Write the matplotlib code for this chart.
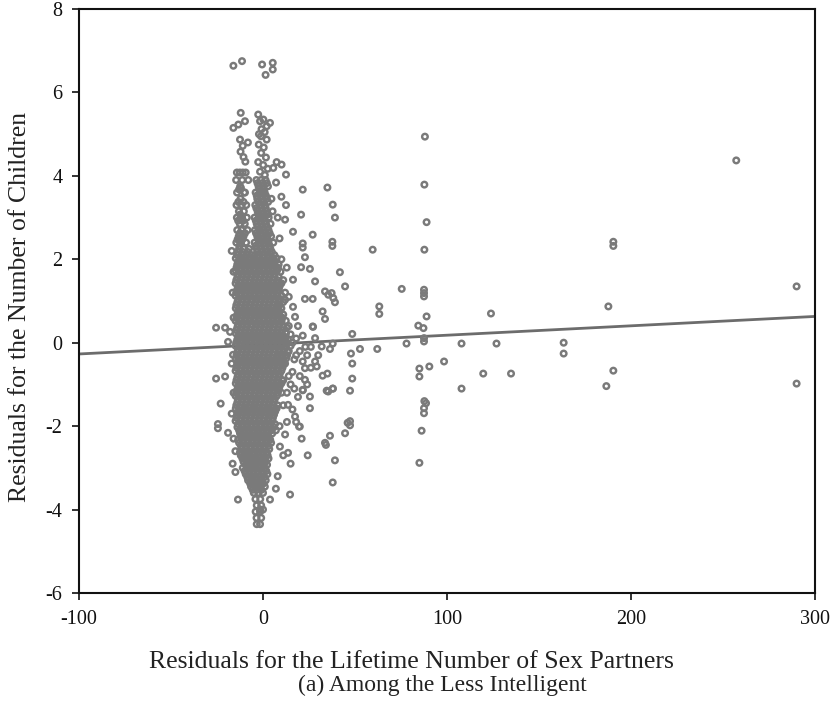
import matplotlib
matplotlib.use("Agg")
import matplotlib.pyplot as plt

plt.rcParams["font.family"] = ["Liberation Serif", "DejaVu Serif"]
plt.rcParams["axes.unicode_minus"] = False

# ------------------------------------------------------------------
# data
# ------------------------------------------------------------------
x_ticks = [-100, 0, 100, 200, 300]
y_ticks = [-6, -4, -2, 0, 2, 4, 6, 8]

# fitted regression line, end points at the axis limits
fit_x = [-100, 300]
fit_y = [-0.27, 0.63]

# dense core near zero, one row of points per residual level
core_y = [
    3.90, 3.75, 3.60, 3.45, 3.30, 3.15, 3.00, 2.85, 2.70, 2.55, 2.40, 2.25, 2.10,
    1.95, 1.80, 1.65, 1.50, 1.35, 1.20, 1.05, 0.90, 0.75, 0.60, 0.45, 0.30, 0.15,
    0.00, -0.15, -0.30, -0.45, -0.60, -0.75, -0.90, -1.05, -1.20, -1.35, -1.50,
    -1.65, -1.80, -1.95, -2.10, -2.25, -2.40, -2.55, -2.70, -2.85, -3.00, -3.15,
    -3.30, -3.45, -3.60, -3.75, -3.90, -4.05, -4.20, -4.35,
]
core_x = [
    [-14.6, -11.3, -3.6, -1.1, 1.4],
    [-12.4, -2.4, 0.2, 2.7],
    [-14.1, -10.2, -4.0, -1.6, 0.9],
    [-12.2, -3.1, -0.4, 2.1, 4.6],
    [-14.4, -11.6, -9.1, -4.2, -1.5, 1.1],
    [-13.1, -10.4, -2.9, -0.6, 2.0, 5.2],
    [-14.2, -11.4, -8.8, -4.6, -2.1, 0.6, 3.1],
    [-12.6, -9.9, -3.4, -0.9, 1.6, 4.1],
    [-14.0, -11.6, -8.4, -4.4, -2.0, 0.4, 3.0],
    [-13.2, -10.6, -3.1, -0.5, 2.1, 4.4],
    [-14.5, -12.0, -9.2, -4.6, -2.0, 0.6, 3.0, 5.6],
    [-13.0, -10.4, -7.6, -3.4, -1.0, 1.4, 4.0],
    [-14.1, -11.5, -9.0, -6.1, -4.4, -2.1, 0.5, 3.1, 6.2],
    [-13.4, -11.1, -8.6, -6.0, -3.5, -1.0, 1.6, 4.0, 6.6],
    [-14.4, -12.1, -9.4, -7.1, -4.5, -2.0, 0.4, 3.1, 5.5, 8.1],
    [-13.6, -10.9, -8.5, -5.9, -3.6, -1.1, 1.5, 3.9, 6.4],
    [-14.5, -12.0, -9.6, -7.0, -4.4, -2.1, 0.5, 2.9, 5.6, 7.9],
    [-13.5, -11.0, -8.4, -6.1, -3.5, -0.9, 1.4, 4.1, 6.5, 9.0],
    [-14.6, -12.1, -9.5, -6.9, -4.6, -2.0, 0.6, 3.0, 5.4, 8.0],
    [-13.4, -11.0, -8.5, -6.0, -3.4, -1.0, 1.5, 4.0, 6.6, 9.2],
    [-14.5, -11.9, -9.5, -7.1, -4.5, -1.9, 0.5, 3.1, 5.5, 8.0],
    [-13.6, -11.1, -8.4, -5.9, -3.6, -1.1, 1.6, 3.9, 6.5, 9.1],
    [-14.4, -12.0, -9.4, -7.0, -4.5, -2.0, 0.4, 3.0, 5.6, 8.1, 10.5],
    [-13.5, -10.9, -8.6, -6.1, -3.4, -0.9, 1.5, 4.1, 6.4, 9.0],
    [-14.5, -12.1, -9.5, -6.9, -4.4, -2.1, 0.6, 2.9, 5.5, 7.9, 10.6],
    [-13.4, -11.0, -8.5, -6.0, -3.5, -1.0, 1.4, 4.0, 6.6, 9.1, 11.5],
    [-14.6, -12.0, -9.6, -7.0, -4.6, -1.9, 0.5, 3.1, 5.4, 8.0, 10.4, 13.0],
    [-13.5, -11.1, -8.4, -6.1, -3.5, -1.1, 1.6, 3.9, 6.5, 9.0, 11.6],
    [-14.4, -11.9, -9.5, -7.0, -4.4, -2.0, 0.4, 3.0, 5.6, 8.1, 10.5, 13.1],
    [-13.6, -11.0, -8.5, -5.9, -3.6, -0.9, 1.5, 4.1, 6.4, 9.0, 11.4],
    [-14.5, -12.0, -9.4, -7.1, -4.5, -2.1, 0.6, 2.9, 5.5, 7.9, 10.6],
    [-13.4, -10.9, -8.6, -6.0, -3.4, -1.0, 1.4, 4.0, 6.6, 9.1],
    [-14.4, -12.1, -9.5, -6.9, -4.6, -1.9, 0.5, 3.1, 5.4, 8.0, 10.4],
    [-13.5, -11.0, -8.4, -6.1, -3.5, -1.1, 1.6, 3.9, 6.5, 9.0],
    [-14.6, -11.9, -9.6, -7.0, -4.4, -2.0, 0.4, 3.0, 5.6, 8.1],
    [-13.6, -11.1, -8.5, -5.9, -3.6, -0.9, 1.5, 4.1, 6.4],
    [-14.5, -12.0, -9.4, -7.1, -4.5, -2.1, 0.6, 2.9, 5.5, 7.9],
    [-13.4, -11.0, -8.6, -6.0, -3.4, -1.0, 1.4, 4.0, 6.6],
    [-14.4, -12.1, -9.5, -6.9, -4.6, -1.9, 0.5, 3.1, 5.4],
    [-13.5, -10.9, -8.4, -6.1, -3.5, -1.1, 1.6, 3.9, 6.5],
    [-13.0, -10.4, -8.1, -5.5, -3.0, -0.4, 2.0, 4.6, 7.0],
    [-12.1, -9.5, -6.9, -4.5, -2.0, 0.6, 3.0],
    [-13.0, -10.6, -8.0, -5.4, -3.1, -0.5, 2.1, 4.4],
    [-11.5, -9.0, -6.6, -4.0, -1.5, 1.0, 3.4],
    [-12.1, -9.4, -7.1, -5.0, -2.4, 0.1, 2.5],
    [-10.6, -8.0, -5.5, -3.4, -1.0, 1.5],
    [-11.0, -8.5, -6.1, -4.0, -1.6, 1.0],
    [-9.4, -7.0, -5.0, -2.5, 0.1, 2.4],
    [-8.1, -5.5, -3.4, -1.0, 1.5],
    [-6.5, -4.1, -1.6, 1.0],
    [-5.0, -2.5, 0.0],
    [-4.1, -1.5],
    [-3.4, -1.0],
    [-4.0, -1.6],
    [-3.5, -1.0],
    [-3.4, -1.6],
]

# in-between residual levels of the same core
core2_y = [
    3.825, 3.675, 3.525, 3.375, 3.225, 3.075, 2.925, 2.775, 2.625, 2.475, 2.325,
    2.175, 2.025, 1.875, 1.725, 1.575, 1.425, 1.275, 1.125, 0.975, 0.825, 0.675,
    0.525, 0.375, 0.225, 0.075, -0.075, -0.225, -0.375, -0.525, -0.675, -0.825,
    -0.975, -1.125, -1.275, -1.425, -1.575, -1.725, -1.875, -2.025, -2.175,
    -2.325, -2.475, -2.625, -2.775, -2.925, -3.075, -3.225, -3.375, -3.525,
]
core2_x = [
    [-3.0, -0.4, 2.1],
    [-13.0, -2.1, 0.6],
    [-3.4, -0.9, 1.6],
    [-13.4, -10.6, -2.4, 0.2, 2.8],
    [-3.6, -1.0, 1.5],
    [-12.4, -2.6, 0.0, 2.6],
    [-13.5, -10.8, -3.9, -1.4, 1.2],
    [-2.9, -0.3, 2.3],
    [-12.6, -9.8, -3.8, -1.2, 1.3, 3.6],
    [-13.8, -11.2, -2.6, 0.0, 2.5],
    [-12.8, -4.0, -1.4, 1.1, 3.6],
    [-13.6, -10.9, -8.2, -3.0, -0.3, 2.2, 4.8],
    [-14.8, -12.3, -9.8, -7.3, -4.9, -2.5, 0.0, 2.5, 5.0, 7.4],
    [-14.0, -11.5, -9.0, -6.5, -4.0, -1.5, 1.0, 3.5, 6.0, 8.5],
    [-14.8, -12.4, -9.9, -7.4, -4.9, -2.4, 0.1, 2.6, 5.1, 7.6],
    [-13.9, -11.6, -9.0, -6.5, -4.1, -1.6, 1.0, 3.4, 6.0, 8.5],
    [-14.9, -12.3, -9.9, -7.5, -5.0, -2.5, 0.0, 2.4, 5.0, 7.5, 10.0],
    [-14.0, -11.5, -9.1, -6.6, -4.0, -1.5, 1.1, 3.6, 6.0, 8.6],
    [-14.9, -12.4, -9.9, -7.4, -4.9, -2.4, 0.1, 2.5, 5.0, 7.5, 10.1],
    [-13.9, -11.5, -9.0, -6.5, -4.1, -1.6, 0.9, 3.4, 6.0, 8.5, 11.0],
    [-14.8, -12.4, -9.9, -7.5, -5.0, -2.5, 0.0, 2.5, 5.0, 7.4, 10.0],
    [-14.0, -11.5, -9.1, -6.6, -4.0, -1.5, 1.0, 3.5, 6.0, 8.5, 11.0],
    [-14.9, -12.3, -9.9, -7.4, -4.9, -2.4, 0.1, 2.6, 5.1, 7.6, 10.1, 12.4],
    [-13.9, -11.6, -9.0, -6.5, -4.1, -1.6, 0.9, 3.4, 5.9, 8.4, 11.0],
    [-14.8, -12.4, -9.9, -7.5, -5.0, -2.5, 0.0, 2.5, 5.0, 7.5, 10.0, 12.5],
    [-14.0, -11.5, -9.1, -6.6, -4.0, -1.5, 1.1, 3.6, 6.0, 8.6, 11.1, 13.6],
    [-14.9, -12.3, -9.9, -7.4, -4.9, -2.4, 0.1, 2.5, 5.1, 7.6, 10.1, 12.5, 15.0],
    [-13.9, -11.5, -9.0, -6.5, -4.1, -1.6, 0.9, 3.4, 6.0, 8.5, 11.0, 13.5],
    [-14.8, -12.4, -9.9, -7.5, -5.0, -2.5, 0.0, 2.6, 5.0, 7.5, 10.0, 12.6],
    [-14.0, -11.6, -9.1, -6.6, -4.0, -1.5, 1.0, 3.5, 6.0, 8.5, 11.1],
    [-14.9, -12.3, -9.9, -7.4, -4.9, -2.4, 0.1, 2.5, 5.1, 7.5, 10.0],
    [-13.9, -11.5, -9.0, -6.5, -4.1, -1.6, 0.9, 3.4, 6.0, 8.5],
    [-14.8, -12.4, -9.9, -7.5, -5.0, -2.5, 0.0, 2.5, 5.0, 7.6, 10.0],
    [-14.0, -11.5, -9.1, -6.6, -4.0, -1.5, 1.1, 3.6, 6.0, 8.5],
    [-14.9, -12.3, -9.9, -7.4, -4.9, -2.4, 0.1, 2.5, 5.1, 7.5],
    [-13.9, -11.6, -9.0, -6.5, -4.1, -1.6, 0.9, 3.4, 6.0],
    [-14.8, -12.4, -9.9, -7.5, -5.0, -2.5, 0.0, 2.6, 5.0, 7.4],
    [-14.0, -11.5, -9.1, -6.6, -4.0, -1.5, 1.0, 3.5, 6.0],
    [-14.9, -12.3, -9.9, -7.4, -4.9, -2.4, 0.1, 2.5, 5.1],
    [-13.9, -11.5, -9.0, -6.5, -4.1, -1.6, 0.9, 3.4, 5.9],
    [-12.5, -10.0, -7.5, -5.0, -2.5, 0.0, 2.5, 5.0],
    [-13.5, -11.0, -8.4, -6.0, -3.5, -1.0, 1.5, 3.9],
    [-12.0, -9.5, -7.0, -4.5, -2.0, 0.5, 3.0],
    [-12.5, -10.2, -8.0, -5.5, -3.0, -0.5, 2.0],
    [-11.2, -8.8, -6.4, -4.2, -1.8, 0.6, 3.0],
    [-9.5, -7.0, -4.6, -2.4, 0.2, 2.2],
    [-10.0, -7.6, -5.4, -3.0, -0.6, 1.8],
    [-8.5, -6.2, -4.0, -1.6, 0.8],
    [-7.0, -4.6, -2.4, 0.2],
    [-5.6, -3.2, -0.8],
]

# scattered points around and away from the core
outer_x = [
    -16.1, -11.4, -0.5, 5.3, 5.3, 1.4,
    -12.1, -2.6, -16.1, -13.4, -9.8, -1.6, 0.2, 3.8, 2.0, -0.8, 0.9, -2.2,
    -12.5, -11.0, -8.2, -12.2, -10.6, -9.6, -1.1, 2.0, -2.3, 0.4, -1.0, 1.6,
    -2.6, 0.1, 2.6, -1.6, 1.0,
    7.4, 10.1, 12.5, 5.6, 7.1,
    -14.2, -12.6, -11.0, -9.4, -8.0, -12.0, -9.8,
    21.6, 35.0, 37.9, 39.1, 12.5, 20.7, 12.0, 16.3, 27.0, 21.6, 21.6, 37.7,
    37.7, 22.8, 20.7, 12.9, 25.5, 41.8, 16.3, 28.3, 44.6, 12.0, 12.0, 22.8,
    27.0, 33.7, 35.5, 37.3, 38.2, 39.1, 16.3, 17.4, 32.4, 33.7, 27.2, 13.0,
    27.0, 21.6, 28.3, 31.9, 36.4, 37.9, 48.5, 47.8, 48.5, 48.5, 47.3, 47.3,
    47.3, 44.6, 36.4, 34.2, 33.7, 24.3, 39.1, 37.9, 21.6, 22.8, 28.3, 29.2,
    22.8, 21.6, 25.5, 25.5, 32.4, 35.0, 34.6, 37.9, 35.4, 38.0, 13.6, 20.0,
    46.0, 13.6, 9.2, 14.7, 19.6, 17.4, 21.6,
    10.0, 12.0, 14.0, 16.0, 11.0, 15.0, 18.0, 19.0, 10.0, 13.0, 16.0, 11.0,
    9.0, 12.0, 24.0, 26.0, 18.0, 14.0, 10.0, 9.0, 11.0, 14.0, 10.0, 9.0,
    8.0, 10.0, 9.5, 15.0, 20.0, 17.0, 23.0, 19.0, 16.0, 12.0, 13.0, 17.0,
    20.0, 14.0, 24.0, 30.0, 26.0, 18.0, 21.0, 15.0, 11.0, 8.0, 7.0,
    59.6, 75.4, 87.7, 88.9, 87.7, 87.5, 87.5, 87.5, 88.9, 84.4, 87.2, 87.5,
    87.5, 63.2, 63.2, 78.0, 62.1, 52.7, 107.9, 126.9, 98.4, 90.4, 85.0, 85.0,
    107.9, 119.7, 134.8, 87.7, 88.6, 87.5, 87.5, 86.2, 85.0, 123.9, 88.0,
    257.2, 190.4, 190.4, 290.0, 187.7, 163.4, 163.4, 190.4, 186.6, 290.0,
    -25.5, -20.6, -17.9, -19.0, -16.3, -25.5, -20.6, -23.0, -24.5, -24.5,
    -19.0, -13.6, 3.8, -1.6, 0.0,
    -16.0, -15.0, -16.5, -15.0, -17.0, -16.0, -17.0, -16.0, -16.5, -16.0, -17.0,
]
outer_y = [
    6.64, 6.75, 6.67, 6.71, 6.55, 6.42,
    5.51, 5.47, 5.15, 5.23, 5.31, 5.31, 5.35, 5.27, 5.19, 5.12, 5.05, 5.00,
    4.87, 4.72, 4.80, 4.58, 4.45, 4.34, 4.95, 4.87, 4.75, 4.68, 4.55, 4.44,
    4.33, 4.26, 4.17, 4.10, 4.02,
    4.33, 4.27, 4.03, 4.19, 3.84,
    4.08, 4.08, 4.08, 4.08, 3.90, 3.71, 3.60,
    3.67, 3.72, 3.31, 3.00, 3.30, 3.07, 2.95, 2.66, 2.59, 2.38, 2.28, 2.42,
    2.32, 2.05, 1.81, 1.80, 1.77, 1.69, 1.51, 1.47, 1.35, 1.20, 1.03, 1.05,
    1.05, 1.23, 1.15, 1.19, 1.07, 0.97, 0.86, 0.62, 0.75, 0.57, 0.38, 0.36,
    0.39, 0.17, 0.11, -0.09, -0.15, -0.02, 0.21, -0.26, -0.50, -0.86, -1.15, -1.88,
    -1.98, -2.17, -2.23, -2.45, -2.40, -2.70, -2.82, -3.35, -0.45, -0.61, -0.45, -0.57,
    -0.89, -1.14, -1.29, -1.57, -0.79, -0.74, -1.15, -1.10, -1.17, -1.10, -1.49, -2.01,
    -1.92, -2.64, -2.49, -3.64, -2.01, -1.77, -1.13,
    -0.30, -0.50, -0.20, -0.70, -0.90, -1.00, -0.30, -1.30, -1.20, -1.90, -1.60, -1.50,
    -2.00, -2.20, -0.30, -0.10, 0.10, 0.40, 0.60, 0.90, 1.50, 1.10, 2.00, 2.50,
    3.00, 3.50, 1.70, 0.20, -0.20, -0.40, -0.10, 0.40, 0.00, 0.10, -1.20, -1.10,
    -0.80, -0.80, -1.00, -0.30, -0.60, -1.90, -2.30, -2.90, -2.70, -3.20, -3.50,
    2.23, 1.29, 3.79, 2.89, 2.23, 1.27, 1.19, 1.11, 0.63, 0.41, 0.35, 0.11,
    0.03, 0.87, 0.69, -0.02, -0.15, -0.15, -0.02, -0.02, -0.45, -0.57, -0.62, -0.81,
    -1.10, -0.74, -0.74, -1.40, -1.45, -1.57, -1.69, -2.11, -2.88, 0.70, 4.94,
    4.37, 2.42, 2.32, 1.35, 0.87, 0.00, -0.26, -0.67, -1.04, -0.98,
    0.36, 0.36, 0.26, 0.02, -0.29, -0.86, -0.81, -1.46, -1.95, -2.05,
    -2.16, -3.76, -3.76, -4.00, -4.00,
    -2.30, -2.60, -2.90, -3.10, -1.70, -1.20, -0.50, 0.60, 1.20, 1.70, 2.20,
]

pts_x = (
    [x for row in core_x for x in row]
    + [x for row in core2_x for x in row]
    + outer_x
)
pts_y = (
    [y for y, row in zip(core_y, core_x) for _ in row]
    + [y for y, row in zip(core2_y, core2_x) for _ in row]
    + outer_y
)

point_color = "#7a7a7a"
line_color = "#6c6c6c"

fig = plt.figure(figsize=(8.36, 7.07), dpi=100)
ax = fig.add_axes([79 / 836, 1 - 593 / 707, (815 - 79) / 836, (593 - 9) / 707])

ax.plot(fit_x, fit_y, color=line_color, lw=2.0, zorder=1)
ax.scatter(
    pts_x,
    pts_y,
    s=4.0 ** 2,
    facecolors="none",
    edgecolors=point_color,
    linewidths=1.75,
    zorder=2,
)

ax.set_xlim(-100, 300)
ax.set_ylim(-6, 8)
ax.set_xticks(x_ticks)
ax.set_yticks(y_ticks)
ax.tick_params(
    direction="out", length=5, width=1.2, labelsize=14.5,
    colors="#111111", pad=7, top=False, right=False,
)
for spine in ax.spines.values():
    spine.set_linewidth(1.5)
    spine.set_color("#111111")

fig.text(
    0.024, 0.566, "Residuals for the Number of Children",
    rotation=90, ha="center", va="center", fontsize=18.5, color="#222222",
)
fig.text(
    0.492, 0.064, "Residuals for the Lifetime Number of Sex Partners",
    ha="center", va="center", fontsize=18.5, color="#222222",
)
fig.text(
    0.529, 0.030, "(a) Among the Less Intelligent",
    ha="center", va="center", fontsize=17, color="#222222",
)

fig.savefig("out.png", dpi=100)
